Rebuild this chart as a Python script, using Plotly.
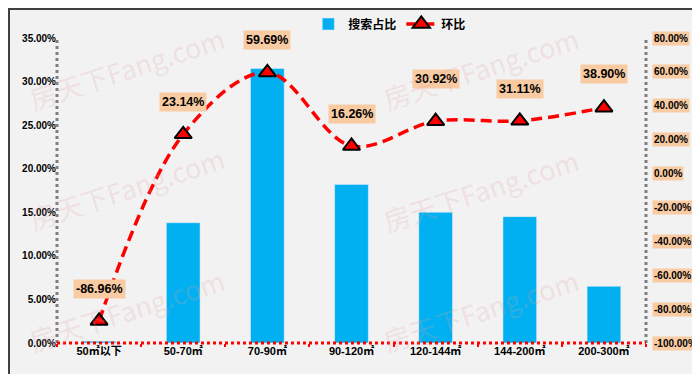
import plotly.graph_objects as go

categories = ["50㎡以下", "50-70㎡", "70-90㎡", "90-120㎡", "120-144㎡", "144-200㎡", "200-300㎡"]
share = [0.002, 0.138, 0.315, 0.182, 0.150, 0.145, 0.065]
mom = [-0.8696, 0.2314, 0.5969, 0.1626, 0.3092, 0.3111, 0.3890]
label_shift = [20, 20, 20, 20, 30, 20, 22]
left_ticks = [0, 0.05, 0.10, 0.15, 0.20, 0.25, 0.30, 0.35]
right_ticks = [-1.0, -0.8, -0.6, -0.4, -0.2, 0.0, 0.2, 0.4, 0.6, 0.8]

W, H = 700, 374
ML, MR, MT, MB = 49, 62, 30, 39
PW, PH = W - ML - MR, H - MT - MB

BLUE = "#00B0F0"
RED = "#FF0000"
BG = "#F2F2F2"
ORANGE = "#F8CBA3"
FONT = "Liberation Sans, Noto Sans CJK SC, sans-serif"

fig = go.Figure()
fig.add_trace(go.Bar(
    x=categories, y=share, name="<b>搜索占比</b>", marker_color=BLUE,
    width=0.4, yaxis="y",
))
fig.add_trace(go.Scatter(
    x=categories, y=mom, name="<b>环比</b>", yaxis="y2", mode="lines+markers",
    line=dict(color=RED, width=3.5, dash="11px,6px", shape="spline", smoothing=1.0),
    marker=dict(symbol="triangle-up", size=15, color=RED, line=dict(color="black", width=2)),
))

annotations = []
for c, v, s in zip(categories, mom, label_shift):
    annotations.append(dict(
        x=c, y=v, xref="x", yref="y2", text=f"<b>{v:.2%}</b>", showarrow=False,
        yshift=s + 2, yanchor="bottom", xanchor="center", bgcolor=ORANGE, borderpad=2,
        font=dict(family=FONT, size=12.5, color="black"),
    ))
for t in right_ticks:
    annotations.append(dict(
        x=1, y=t, xref="paper", yref="y2", text=f"<b>{t:.2%}</b>", showarrow=False,
        xanchor="left", yanchor="middle", xshift=6, bgcolor=ORANGE, borderpad=1,
        font=dict(family=FONT, size=10, color="black"),
    ))

# watermarks
for wx, wy in [(118, 60), (118, 180), (118, 302), (472, 60), (472, 182), (472, 302)]:
    annotations.append(dict(
        x=(wx - ML) / PW, y=1 - (wy - MT) / PH, xref="paper", yref="paper",
        xanchor="center", yanchor="middle",
        text="房天下Fang.com", showarrow=False, textangle=-18,
        font=dict(family="Noto Sans CJK SC, sans-serif", size=27, color="rgba(225,160,165,0.22)"),
    ))

shapes = [
    dict(type="line", xref="paper", yref="paper", x0=0, x1=0, y0=0, y1=1,
         line=dict(color="#7F7F7F", width=3, dash="dot")),
    dict(type="line", xref="paper", yref="paper", x0=1, x1=1, y0=0, y1=1,
         line=dict(color="#7F7F7F", width=3, dash="dot")),
    dict(type="line", xref="paper", yref="paper", x0=0, x1=1, y0=0, y1=0,
         line=dict(color=RED, width=3, dash="dot")),
    dict(type="rect", xref="paper", yref="paper",
         x0=-(ML - 1) / PW, x1=1 + (MR - 1) / PW,
         y0=-(MB - 1) / PH, y1=1 + (MT - 1) / PH,
         line=dict(color="#404040", width=2), layer="above"),
]

fig.update_layout(
    width=W, height=H,
    margin=dict(l=ML, r=MR, t=MT, b=MB, autoexpand=False),
    paper_bgcolor=BG, plot_bgcolor=BG,
    font=dict(family=FONT, color="black"),
    showlegend=True,
    legend=dict(orientation="h", x=0.565, xanchor="center", y=1.0 + 14 / PH, yanchor="middle",
                bgcolor="rgba(0,0,0,0)", font=dict(family=FONT, size=12, color="black"),
                itemwidth=30),
    xaxis=dict(showgrid=False, zeroline=False, showline=False, automargin=False,
               ticks="outside", tickson="boundaries", ticklen=3, tickcolor=RED, tickwidth=2,
               tickfont=dict(family=FONT, size=11, color="black"),
               tickvals=categories, ticktext=[f"<b>{c}</b>" for c in categories],
               range=[-0.5, 6.5]),
    yaxis=dict(range=[0, 0.35], tickvals=left_ticks,
               ticktext=[f"<b>{t:.2%}</b>" for t in left_ticks], automargin=False,
               showgrid=False, zeroline=False, showline=False, ticklen=0,
               tickfont=dict(family=FONT, size=10, color="black")),
    yaxis2=dict(range=[-1.0, 0.8], overlaying="y", side="right", showgrid=False, automargin=False,
                zeroline=False, showline=False, showticklabels=False, tickvals=right_ticks),
    annotations=annotations,
    shapes=shapes,
)

fig.write_html("out.html")
